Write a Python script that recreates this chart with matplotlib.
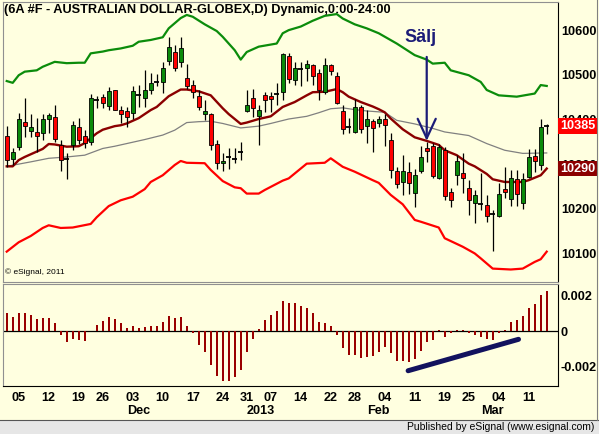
import matplotlib
matplotlib.use('Agg')
import matplotlib.pyplot as plt
import matplotlib.transforms as mtransforms
from matplotlib.patches import Rectangle
from matplotlib.lines import Line2D
import pandas as pd

W, H = 599, 434
BG = '#FFFFE0'
FONT = 'Liberation Sans'
FS = 9.1

# ---------------- data ----------------
holidays = ['2012-11-22', '2012-12-25', '2013-01-01', '2013-01-21', '2013-02-18']
dates = pd.bdate_range('2012-11-01', '2013-03-14')
dates = dates[~dates.isin(pd.to_datetime(holidays))]

opens = [10364, 10312, 10339, 10394, 10375, 10373, 10369, 10400, 10405, 10342,
         10312, 10342, 10383, 10364, 10350, 10443, 10451, 10430, 10466, 10422,
         10419, 10415, 10454, 10449, 10467, 10483, 10483, 10531, 10550, 10529,
         10492, 10477, 10452, 10413, 10413, 10346, 10302, 10316, 10310, 10325,
         10419, 10447, 10408, 10454, 10452, 10455, 10462, 10542, 10488, 10512,
         10516, 10522, 10503, 10462, 10522, 10497, 10419, 10381, 10371, 10428,
         10385, 10397, 10392, 10402, 10355, 10284, 10260, 10283, 10236, 10284,
         10337, 10340, 10268, 10331, 10237, 10275, 10279, 10246, 10212, 10210,
         10208, 10187, 10184, 10244, 10222, 10266, 10213, 10272, 10318, 10299,
         10386]
highs = [10385, 10337, 10415, 10447, 10413, 10404, 10413, 10415, 10432, 10354,
         10324, 10397, 10404, 10376, 10457, 10452, 10457, 10473, 10467, 10430,
         10427, 10475, 10477, 10510, 10503, 10501, 10529, 10585, 10566, 10584,
         10525, 10488, 10466, 10443, 10415, 10354, 10324, 10337, 10335, 10350,
         10467, 10469, 10432, 10462, 10462, 10482, 10548, 10548, 10529, 10529,
         10533, 10525, 10514, 10537, 10525, 10507, 10432, 10404, 10445, 10432,
         10421, 10400, 10407, 10413, 10369, 10294, 10320, 10305, 10290, 10340,
         10350, 10348, 10346, 10339, 10246, 10320, 10324, 10265, 10242, 10280,
         10231, 10197, 10257, 10294, 10287, 10287, 10279, 10333, 10333, 10400,
         10389]
lows = [10294, 10297, 10331, 10361, 10360, 10328, 10354, 10370, 10350, 10285,
        10266, 10331, 10346, 10335, 10343, 10425, 10425, 10422, 10421, 10392,
        10383, 10400, 10427, 10427, 10457, 10475, 10460, 10522, 10509, 10518,
        10469, 10447, 10421, 10398, 10331, 10290, 10285, 10288, 10302, 10309,
        10417, 10406, 10343, 10417, 10417, 10432, 10443, 10482, 10477, 10475,
        10486, 10477, 10443, 10458, 10499, 10434, 10367, 10369, 10369, 10370,
        10348, 10328, 10383, 10340, 10268, 10246, 10231, 10234, 10203, 10280,
        10305, 10270, 10266, 10219, 10204, 10253, 10236, 10185, 10169, 10197,
        10171, 10106, 10182, 10223, 10206, 10206, 10199, 10268, 10283, 10287,
        10367]
closes = [10310, 10327, 10401, 10385, 10382, 10364, 10402, 10410, 10357, 10309,
          10311, 10387, 10354, 10348, 10447, 10444, 10436, 10463, 10422, 10412,
          10406, 10463, 10455, 10467, 10482, 10484, 10516, 10563, 10516, 10561,
          10475, 10462, 10427, 10419, 10343, 10303, 10306, 10317, 10311, 10326,
          10432, 10425, 10421, 10443, 10445, 10456, 10546, 10490, 10516, 10513,
          10524, 10498, 10467, 10523, 10509, 10436, 10378, 10382, 10427, 10378,
          10400, 10380, 10402, 10387, 10287, 10255, 10285, 10258, 10275, 10316,
          10330, 10273, 10339, 10228, 10219, 10307, 10270, 10219, 10231, 10211,
          10184, 10188, 10234, 10237, 10270, 10232, 10266, 10315, 10307, 10382,
          10385]

upper_idx = [0, 1, 2, 3, 5, 6, 8, 10, 12, 13, 14, 16, 17, 19, 21, 22, 24, 26, 27, 29,
             30, 31, 33, 35, 36, 38, 39, 40, 42, 45, 46, 47, 49, 51, 53, 55, 56, 58, 60, 62,
             65, 68, 70, 71, 73, 74, 77, 79, 80, 82, 85, 88, 89, 90]
upper_val = [10486, 10482, 10499, 10507, 10510, 10518, 10529, 10526, 10527, 10527,
             10548, 10552, 10555, 10559, 10565, 10574, 10578, 10584, 10604, 10627,
             10634, 10630, 10613, 10598, 10585, 10555, 10534, 10551, 10563, 10570,
             10593, 10600, 10608, 10621, 10632, 10636, 10626, 10613, 10604, 10593,
             10570, 10544, 10534, 10525, 10527, 10510, 10499, 10484, 10466, 10454,
             10451, 10458, 10477, 10475]

lower_idx = [0, 2, 4, 6, 7, 9, 11, 14, 15, 17, 19, 21, 23, 24, 26, 28, 29, 30, 33, 34,
             36, 38, 39, 40, 42, 43, 46, 47, 49, 50, 53, 54, 56, 58, 61, 62, 64, 66, 68, 69,
             72, 73, 76, 78, 79, 81, 84, 86, 88, 89, 90]
lower_val = [10104, 10125, 10139, 10157, 10163, 10157, 10158, 10166, 10181, 10206,
             10219, 10227, 10244, 10260, 10275, 10298, 10307, 10303, 10302, 10287,
             10262, 10248, 10246, 10234, 10234, 10242, 10263, 10268, 10290, 10301,
             10303, 10313, 10294, 10283, 10264, 10258, 10231, 10210, 10175, 10171,
             10158, 10134, 10115, 10100, 10089, 10066, 10064, 10066, 10081, 10087,
             10104]

ma_idx = [0, 1, 2, 3, 4, 6, 7, 8, 10, 12, 13, 14, 15, 16, 18, 19, 20, 22, 24, 25,
          27, 29, 30, 32, 34, 36, 37, 39, 40, 42, 44, 46, 48, 50, 51, 53, 55, 56, 57, 59,
          61, 62, 63, 64, 66, 68, 70, 72, 73, 75, 77, 78, 80, 81, 83, 86, 87, 89, 90]
ma_val = [10295, 10295, 10309, 10316, 10322, 10334, 10345, 10344, 10339, 10340,
          10347, 10358, 10369, 10377, 10385, 10387, 10391, 10403, 10421, 10428,
          10452, 10467, 10467, 10463, 10454, 10425, 10412, 10390, 10393, 10401,
          10407, 10428, 10439, 10454, 10461, 10462, 10468, 10461, 10451, 10439,
          10429, 10423, 10416, 10402, 10378, 10360, 10352, 10343, 10331, 10320,
          10301, 10295, 10278, 10266, 10260, 10260, 10264, 10275, 10290]

ma2_idx = [0, 2, 4, 7, 10, 13, 14, 16, 18, 20, 23, 26, 28, 30, 32, 34, 36, 39, 42, 44,
           47, 50, 52, 54, 56, 58, 60, 63, 65, 68, 71, 73, 77, 80, 83, 86, 90]
ma2_val = [10295, 10300, 10305, 10313, 10316, 10320, 10325, 10335, 10340, 10346,
           10355, 10365, 10376, 10393, 10395, 10396, 10391, 10381, 10385, 10391,
           10401, 10407, 10415, 10424, 10426, 10422, 10419, 10416, 10398, 10390,
           10380, 10372, 10364, 10346, 10331, 10324, 10325]

osc = [0.00105, 0.00083, 0.00105, 0.00105, 0.00094, 0.00071, 0.00077, 0.00077, 0.00045, -0.00021,
       -0.00058, -0.00043, -0.00049, -0.00054, 0.00002, 0.00038, 0.0006, 0.00083, 0.00071, 0.00049,
       0.00021, 0.00032, 0.00021, 0.00026, 0.00032, 0.00032, 0.00054, 0.00088, 0.00077, 0.00083,
       0.00032, -0.00011, -0.00077, -0.00115, -0.0019, -0.0025, -0.00278, -0.00278, -0.00255, -0.00218,
       -0.00115, -0.00043, 0.00013, 0.00064, 0.00094, 0.00116, 0.00173, 0.00162, 0.00162, 0.00143,
       0.0013, 0.00105, 0.00054, 0.00049, 0.0003, -0.00021, -0.00092, -0.00133, -0.00133, -0.00148,
       -0.00143, -0.00139, -0.00115, -0.0009, -0.00124, -0.00165, -0.00165, -0.00171, -0.00154, -0.00109,
       -0.00058, -0.00049, 0.00008, -0.00034, -0.00011, 0.00008, 0.00008, -0.00011, -0.00021, -0.0003,
       -0.00045, -0.00049, -0.00011, 0.00008, 0.00053, 0.00064, 0.00086, 0.0013, 0.00154, 0.00205,
       0.00229]

trend_idx = [66.9, 85.3]
trend_val = [-0.00222, -0.00045]

price_ticks = [10100, 10200, 10300, 10400, 10500, 10600]
osc_ticks = [-0.002, 0, 0.002]
osc_tick_labels = ['-0.002', '0', '0.002']
last_close = 10385
last_ma = 10290
sell_idx = 70
sell_price = 10352
sell_text = 'Sälj'
title = '(6A #F - AUSTRALIAN DOLLAR-GLOBEX,D) Dynamic,0:00-24:00'
month_offsets = [1.0, 1.4, 0.0, -0.1]

# ---------------- figure ----------------
plt.rcParams['font.family'] = [FONT, 'DejaVu Sans']
fig = plt.figure(figsize=(W / 100, H / 100), dpi=100, facecolor=BG)


def rect(l, t, r, b):
    return [l / W, 1 - b / H, (r - l) / W, (b - t) / H]


ax1 = fig.add_axes(rect(3, 2, 558, 282), facecolor=BG)
ax2 = fig.add_axes(rect(3, 284, 558, 386), facecolor=BG)
XLIM = (-0.62, 91.88)

# candles
n = len(closes)
xs = list(range(n))
for i in xs:
    ax1.vlines(i, lows[i], highs[i], color='black', lw=0.9, zorder=3)
up = [i for i in xs if closes[i] - opens[i] > 2]
dn = [i for i in xs if opens[i] - closes[i] > 2]
dj = [i for i in xs if abs(closes[i] - opens[i]) <= 2]
ax1.bar(up, [closes[i] - opens[i] for i in up], bottom=[opens[i] for i in up],
        width=0.68, color='#0A8A0A', edgecolor='black', lw=0.6, zorder=4)
ax1.bar(dn, [opens[i] - closes[i] for i in dn], bottom=[closes[i] for i in dn],
        width=0.68, color='#FF0000', edgecolor='black', lw=0.6, zorder=4)
for i in dj:
    ax1.hlines(closes[i], i - 0.4, i + 0.4, color='black', lw=1.3, zorder=4)

ax1.plot(upper_idx, upper_val, color='#0B8C0B', lw=1.6, zorder=2)
ax1.plot(lower_idx, lower_val, color='#FF0000', lw=1.6, zorder=2)
ax1.plot(ma2_idx, ma2_val, color='#808080', lw=0.9, zorder=2)
ax1.plot(ma_idx, ma_val, color='#8B0000', lw=1.7, zorder=2)

ax1.set_xlim(*XLIM)
ax1.set_ylim(10036, 10663)
ax1.set_xticks([])
ax1.yaxis.tick_right()
ax1.set_yticks(price_ticks)
ax1.set_yticklabels([str(t) for t in price_ticks])
ax1.tick_params(axis='y', length=0, pad=2, labelsize=FS)
for lab in ax1.get_yticklabels():
    lab.set_fontweight('bold')
for s in ['top', 'left', 'bottom']:
    ax1.spines[s].set_color('#909090')
ax1.spines['right'].set_color('black')

# price boxes
tr = mtransforms.blended_transform_factory(ax1.transAxes, ax1.transData)
ax1.text(1.004, last_close, str(last_close), transform=tr, ha='left', va='center',
         color='white', fontsize=FS, fontweight='bold', zorder=10, clip_on=False,
         bbox=dict(boxstyle='square,pad=0.14', fc='#FF0000', ec='none'))
ax1.text(1.004, last_ma, str(last_ma), transform=tr, ha='left', va='center',
         color='white', fontsize=FS, fontweight='bold', zorder=10, clip_on=False,
         bbox=dict(boxstyle='square,pad=0.14', fc='#8B0000', ec='none'))

# sell arrow
ax1.annotate('', xy=(sell_idx, sell_price), xytext=(sell_idx, 10540),
             arrowprops=dict(arrowstyle='->,head_length=1.4,head_width=0.65',
                             color='#1C1C78', lw=1.6, shrinkA=0, shrinkB=0), zorder=6)
ax1.text(sell_idx - 1.1, 10583, sell_text, ha='center', va='center', color='#1C1C78',
         fontsize=13, fontweight='bold', zorder=6)

ax1.text(0.004, 0.02, '© eSignal, 2011', transform=ax1.transAxes, fontsize=6,
         ha='left', va='bottom')

# oscillator
ax2.bar(xs, osc, width=0.36, color='#990000', zorder=3)
ax2.axhline(0, color='black', lw=0.9, zorder=2)
ax2.plot(trend_idx, trend_val, color='#12125E', lw=3.6, solid_capstyle='round', zorder=5)
ax2.set_xlim(*XLIM)
ax2.set_ylim(-0.00308, 0.002665)
ax2.yaxis.tick_right()
ax2.set_yticks(osc_ticks)
ax2.set_yticklabels(osc_tick_labels)
ax2.tick_params(axis='y', length=0, pad=2, labelsize=FS)
for lab in ax2.get_yticklabels():
    lab.set_fontweight('bold')

# x ticks: first trading day of each week
week_pos, week_lab = [], []
for i in range(1, n):
    if dates[i].isocalendar()[1] != dates[i - 1].isocalendar()[1]:
        week_pos.append(i)
        week_lab.append('%02d' % dates[i].day)
ax2.set_xticks(week_pos)
ax2.set_xticklabels(week_lab)
ax2.tick_params(axis='x', length=0, pad=4, labelsize=FS)
for lab in ax2.get_xticklabels():
    lab.set_fontweight('bold')

month_pos, month_lab = [], []
for i in range(1, n):
    if dates[i].month != dates[i - 1].month:
        month_pos.append(i)
        month_lab.append('2013' if dates[i].month == 1 else dates[i].strftime('%b'))
trx = mtransforms.blended_transform_factory(ax2.transData, fig.transFigure)
for p, lab, off in zip(month_pos, month_lab, month_offsets):
    ax2.text(p + off, 1 - 411 / H, lab, transform=trx, ha='center', va='center',
             fontsize=FS, fontweight='bold')

for s in ['top', 'left']:
    ax2.spines[s].set_color('#909090')
ax2.spines['right'].set_color('black')
ax2.spines['bottom'].set_color('black')

# frame & footer
fig.patches.append(Rectangle((0, 0), 1, 14 / H, transform=fig.transFigure,
                             fc='#E6E6E6', ec='none', zorder=0))
fig.lines.append(Line2D([0, 1], [1 - 420 / H, 1 - 420 / H], transform=fig.transFigure,
                        color='#555555', lw=0.8))
fig.lines.append(Line2D([597 / W, 597 / W], [1 - 420 / H, 1], transform=fig.transFigure,
                        color='#808080', lw=0.8))
fig.text(594 / W, 1 - 427 / H, 'Published by eSignal (www.esignal.com)', ha='right',
         va='center', fontsize=7.5)
fig.text(4 / W, 1 - 10 / H, title, ha='left', va='center', fontsize=9.2, fontweight='bold')

fig.savefig('out.png', dpi=100, facecolor=BG)
